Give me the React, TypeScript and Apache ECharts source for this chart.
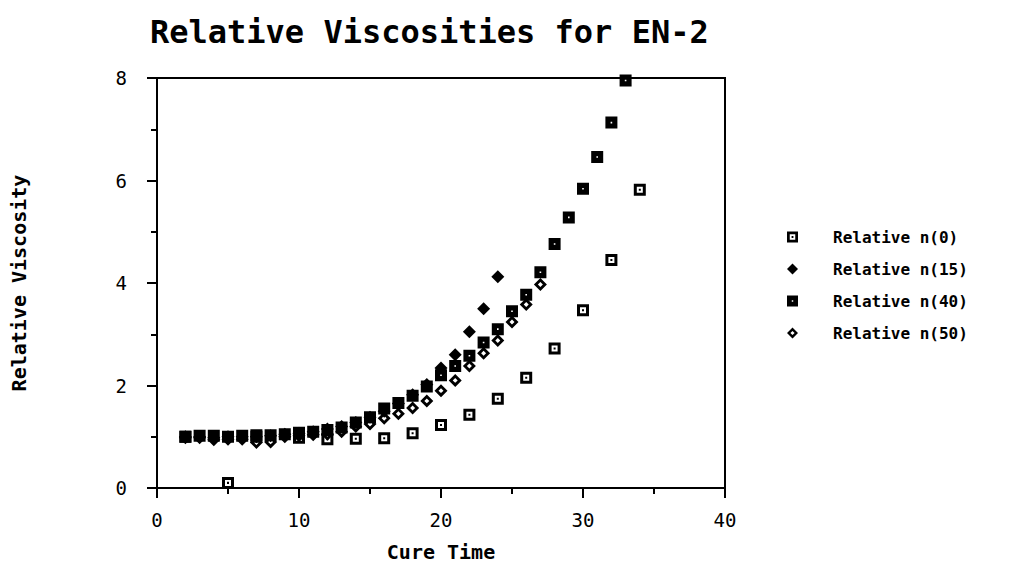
import React, { useEffect, useRef } from "react";
import * as echarts from "echarts";

// ---- data ----
const n0X = [2, 5, 7, 10, 12, 14, 16, 18, 20, 22, 24, 26, 28, 30, 32, 34];
const n0Y = [1.0, 0.1, 1.0, 0.98, 0.95, 0.96, 0.97, 1.07, 1.23, 1.43, 1.74, 2.15, 2.72, 3.47, 4.45, 5.82];

const n15X = [2, 3, 4, 5, 6, 7, 8, 9, 10, 11, 12, 13, 14, 15, 16, 17, 18, 19, 20, 21, 22, 23, 24];
const n15Y = [1.0, 1.0, 0.98, 1.0, 1.0, 1.0, 1.02, 1.05, 1.07, 1.1, 1.15, 1.2, 1.28, 1.38, 1.5, 1.65, 1.82, 2.02, 2.34, 2.6, 3.05, 3.5, 4.12];

const n40X = [2, 3, 4, 5, 6, 7, 8, 9, 10, 11, 12, 13, 14, 15, 16, 17, 18, 19, 20, 21, 22, 23, 24, 25, 26, 27, 28, 29, 30, 31, 32, 33];
const n40Y = [1.0, 1.02, 1.02, 1.0, 1.02, 1.03, 1.03, 1.05, 1.08, 1.1, 1.13, 1.18, 1.28, 1.38, 1.55, 1.66, 1.8, 1.98, 2.2, 2.38, 2.58, 2.84, 3.1, 3.45, 3.77, 4.21, 4.76, 5.28, 5.84, 6.46, 7.13, 7.95];

const n50X = [2, 3, 4, 5, 6, 7, 8, 9, 10, 11, 12, 13, 14, 15, 16, 17, 18, 19, 20, 21, 22, 23, 24, 25, 26, 27];
const n50Y = [0.98, 0.98, 0.94, 0.95, 0.95, 0.89, 0.9, 1.0, 1.02, 1.04, 1.05, 1.1, 1.2, 1.25, 1.36, 1.45, 1.56, 1.7, 1.9, 2.1, 2.38, 2.63, 2.88, 3.24, 3.58, 3.97];

const seriesNames = ["Relative n(0)", "Relative n(15)", "Relative n(40)", "Relative n(50)"];

const TITLE = "Relative Viscosities for EN-2";
const X_NAME = "Cure Time";
const Y_NAME = "Relative Viscosity";

// ---- marker shapes ----
const SYM_OPEN_SQ = "path://M0,0H12V12H0Z M3,3V9H9V3Z M5,5H7V7H5Z";
const SYM_FILL_SQ = "path://M0,0H12V12H0Z M5.2,5.2V6.8H6.8V5.2Z";
const SYM_FILL_DIA = "path://M6,0L12,6L6,12L0,6Z";
const SYM_HOLLOW_DIA = "path://M6,0L12,6L6,12L0,6Z M6,3.7L3.7,6L6,8.3L8.3,6Z";

const pts = (xs: number[], ys: number[]) => xs.map((x, i) => [x, ys[i]]);

const MONO = "'DejaVu Sans Mono', monospace";

export default function App() {
  const ref = useRef<HTMLDivElement>(null);

  useEffect(() => {
    if (!ref.current) return;
    const chart = echarts.init(ref.current, undefined, { renderer: "svg" });
    const symbols = [SYM_OPEN_SQ, SYM_FILL_DIA, SYM_FILL_SQ, SYM_HOLLOW_DIA];
    const sizes = [12, 13, 12, 13];
    const datas = [pts(n0X, n0Y), pts(n15X, n15Y), pts(n40X, n40Y), pts(n50X, n50Y)];

    chart.setOption({
      animation: false,
      backgroundColor: "#fff",
      title: {
        text: TITLE,
        left: 137,
        top: 3,
        textStyle: { fontFamily: MONO, fontWeight: "bold", fontSize: 32, color: "#000" },
      },
      legend: {
        orient: "vertical",
        left: 779,
        top: 221,
        itemGap: 16,
        itemWidth: 11,
        itemHeight: 11,
        padding: 0,
        symbolKeepAspect: true,
        data: seriesNames.map((n, i) => ({ name: n, icon: symbols[i] })),
        textStyle: { fontFamily: MONO, fontWeight: "bold", fontSize: 16, color: "#000", padding: [0, 0, 0, 30] },
      },
      grid: {
        left: 149,
        right: 283,
        top: 70,
        bottom: 83,
        outerBoundsMode: "none",
        containLabel: false,
        show: true,
        borderColor: "#000",
        borderWidth: 2,
        backgroundColor: "transparent",
      },
      xAxis: {
        type: "value",
        min: 0,
        max: 40,
        interval: 10,
        name: X_NAME,
        nameLocation: "middle",
        nameGap: 54,
        nameTextStyle: { fontFamily: MONO, fontWeight: "bold", fontSize: 20, color: "#000" },
        axisLine: { show: true, lineStyle: { color: "#000", width: 2 } },
        axisTick: { show: true, length: 10, lineStyle: { color: "#000", width: 2 } },
        minorTick: { show: true, splitNumber: 2, length: 6, lineStyle: { color: "#000", width: 2 } },
        splitLine: { show: false },
        axisLabel: { margin: 22, fontFamily: MONO, fontSize: 19, color: "#000" },
      },
      yAxis: {
        type: "value",
        min: 0,
        max: 8,
        interval: 2,
        name: Y_NAME,
        nameLocation: "middle",
        nameGap: 128,
        nameTextStyle: { fontFamily: MONO, fontWeight: "bold", fontSize: 20, color: "#000" },
        axisLine: { show: true, lineStyle: { color: "#000", width: 2 } },
        axisTick: { show: true, length: 10, lineStyle: { color: "#000", width: 2 } },
        minorTick: { show: true, splitNumber: 2, length: 6, lineStyle: { color: "#000", width: 2 } },
        splitLine: { show: false },
        axisLabel: { margin: 30, fontFamily: MONO, fontSize: 19, color: "#000" },
      },
      series: seriesNames.map((n, i) => ({
        name: n,
        type: "scatter",
        data: datas[i],
        symbol: symbols[i],
        symbolSize: sizes[i],
        itemStyle: { color: "#000", opacity: 1 },
        emphasis: { disabled: true },
        z: 2 + i,
      })),
    });

    return () => chart.dispose();
  }, []);

  return <div ref={ref} style={{ width: 1000, height: 563 }} />;
}
